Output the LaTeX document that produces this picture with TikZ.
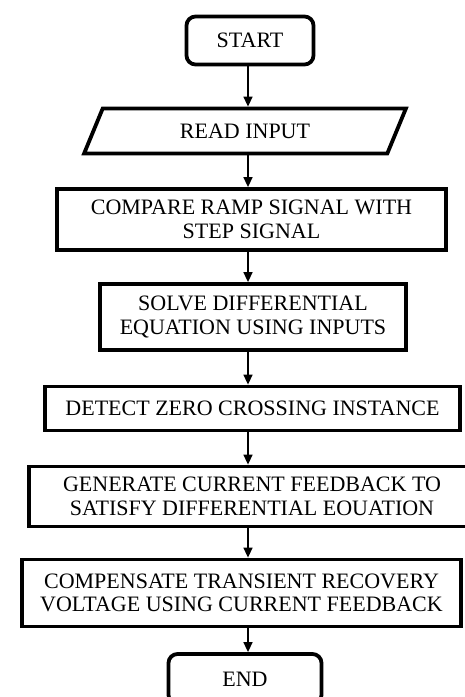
\documentclass[tikz,border=0pt]{standalone}
\usepackage{fontspec}
\setmainfont{Liberation Serif}
\usetikzlibrary{shapes.geometric, arrows.meta}
\begin{document}
\begin{tikzpicture}[x=1pt, y=-1pt,
    box/.style={draw, line width=3.8pt, align=center, inner sep=0pt,
        font=\fontsize{22}{23.5}\selectfont},
    terminal/.style={box, rounded corners=9pt},
    io/.style={box, trapezium, trapezium left angle=60, trapezium right angle=120,
        trapezium stretches=true},
    flow/.style={-{Triangle[length=10pt, width=9pt]}, line width=1.5pt}]
    \useasboundingbox (0, 0) rectangle (465, 697);
    \coordinate (axis) at (248, 0);
    \node[terminal, minimum width=127, minimum height=48] (start) at (250, 40.5) {START};
    \node[io, minimum width=322, minimum height=45] (read) at (245, 131) {READ INPUT};
    \node[box, minimum width=389, minimum height=61] (compare) at (251.5, 219.5)
        {COMPARE RAMP SIGNAL WITH\\STEP SIGNAL};
    \node[box, minimum width=306, minimum height=66] (solve) at (253, 317)
        {SOLVE DIFFERENTIAL\\EQUATION USING INPUTS};
    \node[box, minimum width=415, minimum height=44] (detect) at (252.5, 408.5)
        {DETECT ZERO CROSSING INSTANCE};
    \node[box, minimum width=446, minimum height=60] (generate) at (252, 496.5)
        {GENERATE CURRENT FEEDBACK TO\\SATISFY DIFFERENTIAL EOUATION};
    \node[box, minimum width=439, minimum height=67] (compensate) at (241.5, 593)
        {COMPENSATE TRANSIENT RECOVERY\\VOLTAGE USING CURRENT FEEDBACK};
    \node[terminal, minimum width=153, minimum height=50] (end) at (245, 679) {END};
    \foreach \a/\b in {start/read, read/compare, compare/solve, solve/detect,
        detect/generate, generate/compensate, compensate/end} {
        \draw[flow] (\a.south -| axis) -- (\b.north -| axis);
    }
\end{tikzpicture}
\end{document}
